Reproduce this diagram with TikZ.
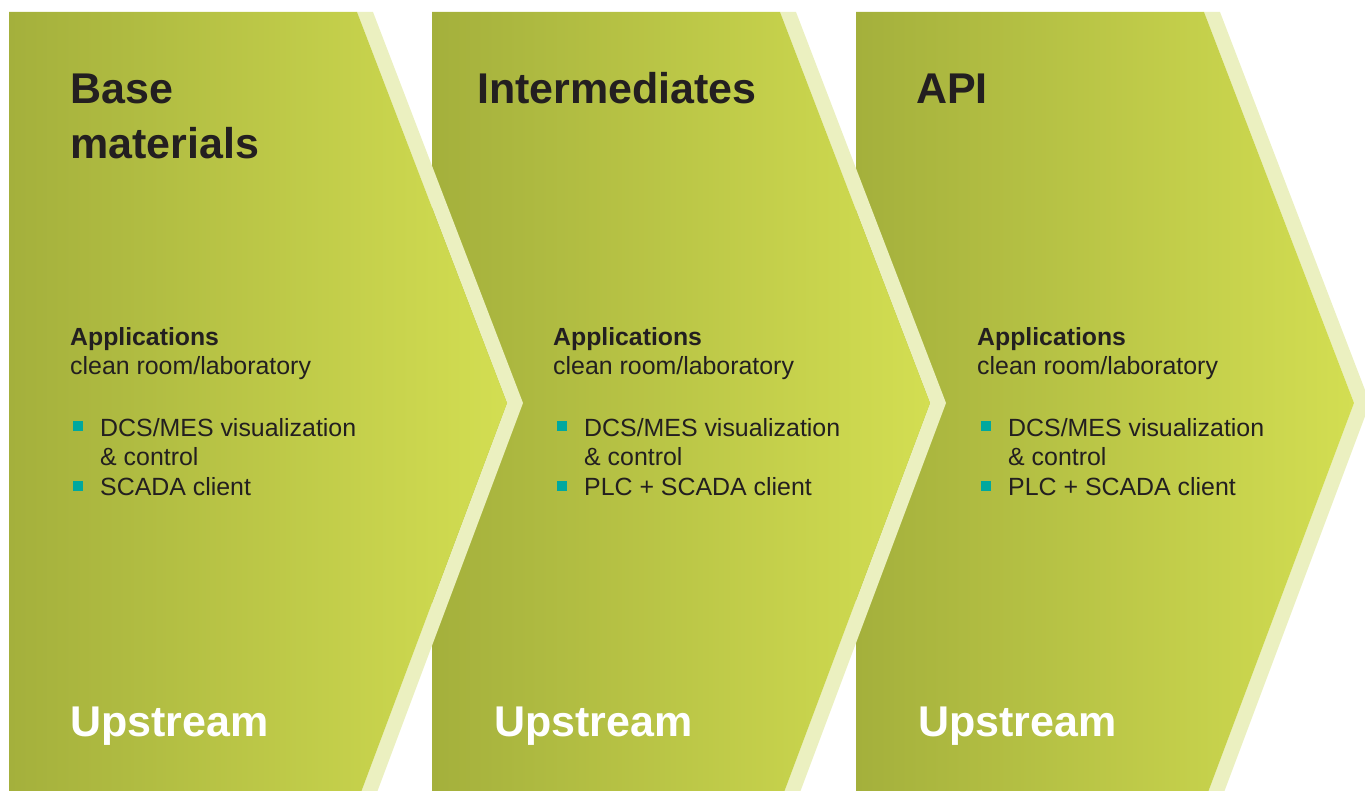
\documentclass[tikz,border=0pt]{standalone}
\usepackage{fontspec}
\setmainfont{Liberation Sans}
\definecolor{gdark}{RGB}{164,176,60}
\definecolor{glight}{RGB}{211,222,82}
\definecolor{gpale}{RGB}{235,240,192}
\definecolor{teal}{RGB}{0,168,158}
\definecolor{ink}{RGB}{35,31,32}
\tikzset{
  txt/.style={anchor=base west, inner sep=0pt, text=ink},
  ttl/.style={txt, font=\fontsize{43}{50}\selectfont\bfseries},
  body/.style={txt, font=\fontsize{24.9}{30}\selectfont},
  bodyb/.style={body, font=\fontsize{24.8}{30}\selectfont\bfseries},
  up/.style={anchor=base west, inner sep=0pt, text=white, font=\fontsize{43}{50}\selectfont\bfseries},
  bul/.style={fill=teal, inner sep=0pt, minimum size=10pt, draw=none},
}
\begin{document}
\begin{tikzpicture}[x=1pt,y=-1pt]
\useasboundingbox (0,0) rectangle (1365,791);
\clip (0,0) rectangle (1365,791);
% chevrons, drawn right to left so each one lies over the next
\foreach \ox in {847,423,0}{
  \begin{scope}[xshift=\ox pt]
  \fill[gpale] (357,12) -- (373,12) -- (523,403) -- (376,795) -- (360,795) -- (507,403) -- cycle;
  \shade[left color=gdark, right color=glight] (9,12) -- (357,12) -- (507,403) -- (360,795) -- (9,795) -- cycle;
  \end{scope}
}
% column 1
\node[ttl] (t1a) at (70,103.3) {Base};
\node[ttl] (t1b) at (70,159) {materials};
\node[bodyb] (a1) at (70,345) {Applications};
\node[body] (c1) at (70,374.5) {clean room/laboratory};
\node[bul] (b1a) at (78,426) {};
\node[body] (l1a) at (100,436) {DCS/MES visualization};
\node[body] (l1b) at (100,465.5) {\& control};
\node[bul] (b1b) at (78,486) {};
\node[body] (l1c) at (100,495.5) {SCADA client};
\node[up] (u1) at (70,736) {Upstream};
% column 2
\node[ttl] (t2) at (477,103.3) {Intermediates};
\node[bodyb] (a2) at (553,345) {Applications};
\node[body] (c2) at (553,374.5) {clean room/laboratory};
\node[bul] (b2a) at (562,426) {};
\node[body] (l2a) at (584,436) {DCS/MES visualization};
\node[body] (l2b) at (584,465.5) {\& control};
\node[bul] (b2b) at (562,486) {};
\node[body] (l2c) at (584,495.5) {PLC + SCADA client};
\node[up] (u2) at (494,736) {Upstream};
% column 3
\node[ttl] (t3) at (916,103.3) {API};
\node[bodyb] (a3) at (977,345) {Applications};
\node[body] (c3) at (977,374.5) {clean room/laboratory};
\node[bul] (b3a) at (986,426) {};
\node[body] (l3a) at (1008,436) {DCS/MES visualization};
\node[body] (l3b) at (1008,465.5) {\& control};
\node[bul] (b3b) at (986,486) {};
\node[body] (l3c) at (1008,495.5) {PLC + SCADA client};
\node[up] (u3) at (918,736) {Upstream};
\end{tikzpicture}
\end{document}
